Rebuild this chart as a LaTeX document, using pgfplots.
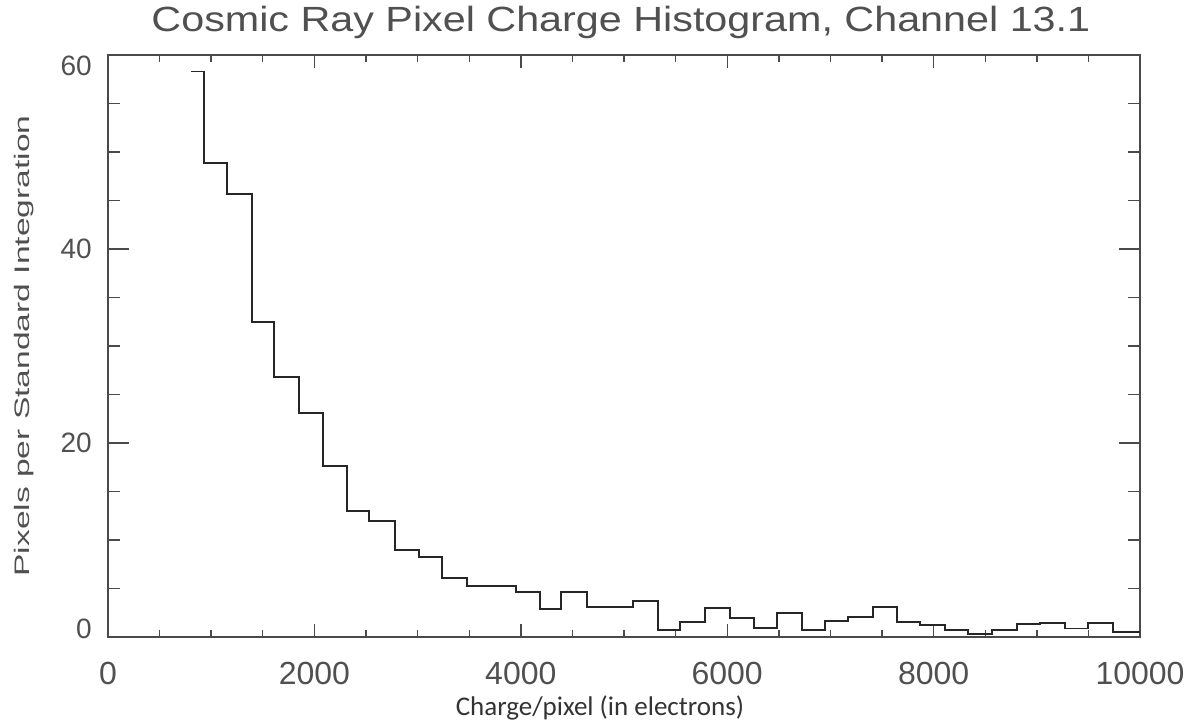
\documentclass[border=0pt]{standalone}
\usepackage{pgfplots}
\pgfplotsset{compat=1.18}
\usepackage{fontspec}
\setmainfont{Liberation Sans}
\newfontfamily\titlefont[FakeStretch=1.18]{Liberation Sans}
\newfontfamily\ylabfont[FakeStretch=1.6]{Liberation Sans}
\newfontfamily\xlabfont{Carlito}
\definecolor{axgray}{HTML}{4A4A4A}
\definecolor{txtgray}{HTML}{505050}
\begin{document}
\begin{tikzpicture}
\begin{axis}[
  scale only axis,
  width=1032pt, height=582pt,
  xmin=0, xmax=10000, ymin=0, ymax=60,
  scaled x ticks=false, scaled y ticks=false,
  xtick={0,2000,4000,6000,8000,10000},
  xticklabels={0,2000,4000,6000,8000,10000},
  ytick={0,20,40,60},
  yticklabels={\raisebox{8pt}[\height][\depth]{0},20,40,\raisebox{-11pt}[\height][\depth]{60}},
  minor x tick num=3, minor y tick num=3,
  tick align=inside,
  axis line style={axgray, line width=1.6pt},
  every tick/.style={axgray, line width=1.4pt},
  xtick style={/pgfplots/major tick length=13pt, /pgfplots/minor tick length=7pt},
  ytick style={/pgfplots/major tick length=21pt, /pgfplots/minor tick length=12pt},
  xticklabel style={font=\fontsize{32}{36}\selectfont, text=txtgray, inner sep=0pt, anchor=north, yshift=-25pt},
  yticklabel style={font=\fontsize{28}{32}\selectfont, text=txtgray, inner sep=0pt, anchor=east, xshift=-16pt},
  title={Cosmic Ray Pixel Charge Histogram, Channel 13.1},
  title style={font=\titlefont\fontsize{35}{40}\selectfont, text=txtgray, inner sep=0pt, at={(axis description cs:0.497,1.0309)}, anchor=base},
  ylabel={Pixels per Standard Integration},
  ylabel style={font=\ylabfont\fontsize{21}{25}\selectfont, text=txtgray, inner sep=0pt, at={(axis description cs:-0.0756,0.5)}, anchor=base},
  xlabel={Charge/pixel (in electrons)},
  xlabel style={font=\xlabfont\fontsize{27}{31}\selectfont, text=black!80, inner sep=0pt, at={(axis description cs:0.4767,-0.1357)}, anchor=base},
]
\addplot[const plot, color=black!85, line width=1.9pt] coordinates {
(805,58.3) (933,48.9) (1150,45.7) (1392,32.5) (1612,26.8) (1851,23.1)
(2086,17.6) (2313,13.0) (2532,12.0) (2781,9.0) (3014,8.25) (3240,6.1)
(3476,5.3) (3713,5.3) (3950,4.6) (4186,2.86) (4390,4.6) (4638,3.1)
(4864,3.1) (5090,3.7) (5333,0.76) (5543,1.55) (5785,3.0) (6027,2.0)
(6260,0.97) (6479,2.5) (6722,0.76) (6948,1.65) (7174,2.06) (7410,3.1)
(7649,1.55) (7868,1.28) (8110,0.69) (8337,0.28) (8563,0.76) (8805,1.31)
(9031,1.44) (9273,0.87) (9499,1.44) (9735,0.52) (10000,0.52)
};
\end{axis}
\path[draw=none] ([shift={(-108pt,-82pt)}]current axis.south west) rectangle ([shift={(54pt,55pt)}]current axis.north east);
\end{tikzpicture}
\end{document}
